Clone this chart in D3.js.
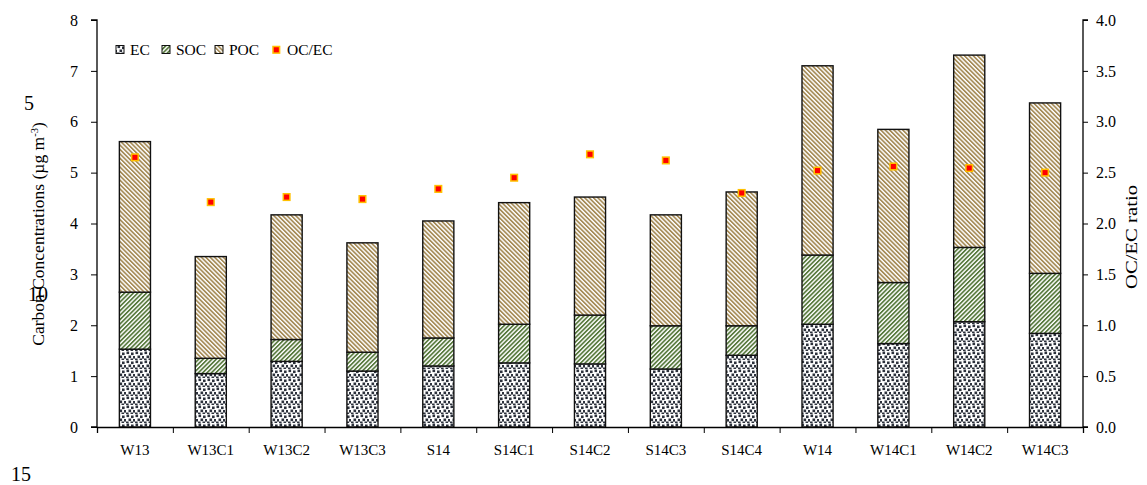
<!DOCTYPE html>
<html>
<head>
<meta charset="utf-8">
<script src="https://cdn.jsdelivr.net/npm/d3@7"></script>
<style>
body { margin: 0; background: #fff; }
svg { display: block; }
text { font-family: "Liberation Serif", "Times New Roman", serif; fill: #000; }
</style>
</head>
<body>
<svg id="chart"></svg>
<script>
// data
const sites = ["W13", "W13C1", "W13C2", "W13C3", "S14", "S14C1", "S14C2", "S14C3", "S14C4", "W14", "W14C1", "W14C2", "W14C3"]
const ec  = [1.53, 1.05, 1.29, 1.10, 1.20, 1.26, 1.24, 1.14, 1.41, 2.02, 1.64, 2.07, 1.84]
const soc = [1.12, 0.30, 0.43, 0.37, 0.55, 0.76, 0.96, 0.85, 0.58, 1.36, 1.20, 1.46, 1.18]
const poc = [2.96, 2.00, 2.45, 2.15, 2.30, 2.39, 2.32, 2.18, 2.63, 3.72, 3.01, 3.78, 3.35]
const ocec = [2.65, 2.21, 2.26, 2.24, 2.34, 2.45, 2.68, 2.62, 2.30, 2.52, 2.56, 2.545, 2.50]
const leftTicks = [0, 1, 2, 3, 4, 5, 6, 7, 8]
const rightTicks = [0, 0.5, 1, 1.5, 2, 2.5, 3, 3.5, 4]
const keys = ["EC", "SOC", "POC"]
const lineNumbers = [{t: "5", x: 24, y: 110}, {t: "10", x: 28, y: 301}, {t: "15", x: 11, y: 481}]

let width = 1147
let height = 485
let pLeft = 97, pRight = 1083, pTop = 20, pBottom = 427

let svg = d3.select('#chart').attr('width', width).attr('height', height)

// fill patterns
let defs = svg.append('defs')
let dots = defs.append('pattern').attr('id', 'pEC')
    .attr('patternUnits', 'userSpaceOnUse').attr('width', 9).attr('height', 9)
dots.append('rect').attr('width', 9).attr('height', 9).attr('fill', '#fff')
;[[0.5, 0.5], [5, 1.5], [2.5, 4.5], [7, 5], [0, 7.5], [4.5, 7.5]].forEach(p => {
    dots.append('rect').attr('x', p[0]).attr('y', p[1]).attr('width', 2.6).attr('height', 2.6)
        .attr('fill', '#2c313c')
})

function stripes(id, color, angle) {
    let p = defs.append('pattern').attr('id', id)
        .attr('patternUnits', 'userSpaceOnUse').attr('width', 3.1).attr('height', 3.1)
        .attr('patternTransform', 'rotate(' + angle + ')')
    p.append('rect').attr('width', 3.1).attr('height', 3.1).attr('fill', '#fff')
    p.append('rect').attr('width', 1.7).attr('height', 3.1).attr('fill', color)
}
stripes('pSOC', '#587a3e', 45)
stripes('pPOC', '#a68c58', -45)

let fills = {EC: 'url(#pEC)', SOC: 'url(#pSOC)', POC: 'url(#pPOC)'}

// scales
let x = d3.scaleBand().domain(sites).range([pLeft, pRight]).paddingInner(0.59).paddingOuter(0.295)
let xEdge = d3.scaleLinear().domain([0, sites.length]).range([pLeft, pRight])
let y = d3.scaleLinear().domain([0, 8]).range([pBottom, pTop])
let y2 = d3.scaleLinear().domain([0, 4]).range([pBottom, pTop])

let rows = sites.map((s, i) => ({site: s, EC: ec[i], SOC: soc[i], POC: poc[i]}))
let series = d3.stack().keys(keys)(rows)

// bars
let g = svg.append('g')
g.selectAll('g.layer')
    .data(series)
    .enter().append('g')
    .attr('class', 'layer')
    .attr('fill', d => fills[d.key])
    .selectAll('rect')
    .data(d => d)
    .enter().append('rect')
    .attr('x', d => x(d.data.site))
    .attr('width', x.bandwidth())
    .attr('y', d => y(d[1]))
    .attr('height', d => y(d[0]) - y(d[1]))
    .attr('stroke', '#111')
    .attr('stroke-width', 1.4)

// OC/EC markers
svg.append('g').selectAll('rect')
    .data(ocec)
    .enter().append('rect')
    .attr('x', (d, i) => x(sites[i]) + x.bandwidth() / 2 - 3.3)
    .attr('y', d => y2(d) - 3.3)
    .attr('width', 6.6).attr('height', 6.6)
    .attr('fill', '#ff0000')
    .attr('stroke', '#ffc000')
    .attr('stroke-width', 1.5)

// axes
let fontSize = '16px'
let axL = svg.append('g').attr('transform', 'translate(' + pLeft + ',0)')
    .call(d3.axisLeft(y).tickValues(leftTicks).tickSize(6).tickPadding(13).tickFormat(d3.format('d')))
let axR = svg.append('g').attr('transform', 'translate(' + pRight + ',0)')
    .call(d3.axisRight(y2).tickValues(rightTicks).tickSize(5).tickPadding(8).tickFormat(d3.format('.1f')))
let axB = svg.append('g').attr('transform', 'translate(0,' + pBottom + ')')
    .call(d3.axisBottom(x).tickSize(0).tickPadding(17))
let axE = svg.append('g').attr('transform', 'translate(0,' + pBottom + ')')
    .call(d3.axisBottom(xEdge).tickValues(d3.range(sites.length + 1)).tickSize(6).tickFormat(''))

;[axL, axR, axB, axE].forEach(a => {
    a.selectAll('path.domain').attr('stroke', '#000').attr('stroke-width', 1.3)
    a.selectAll('line').attr('stroke', '#000').attr('stroke-width', 1)
    a.selectAll('text').style('font-size', fontSize).attr('fill', '#000')
        .style('font-family', '"Liberation Serif", serif')
})
axB.selectAll('text').style('font-size', '15px')
axB.select('path.domain').remove()
axL.select('path.domain').attr('d', 'M-6,' + pTop + 'H0V' + pBottom + 'H-6')
axR.select('path.domain').attr('d', 'M5,' + pTop + 'H0V' + pBottom + 'H5')

// axis titles
let lt = svg.append('text')
    .attr('transform', 'translate(44,234) rotate(-90)')
    .attr('text-anchor', 'middle')
    .style('font-size', '17.5px')
lt.append('tspan').text('Carbon Concentrations (\u00b5g m')
lt.append('tspan').text('-3').attr('dy', -6).style('font-size', '10.5px')
lt.append('tspan').text(')').attr('dy', 6)

svg.append('text')
    .attr('transform', 'translate(1137,237) rotate(-90)')
    .attr('text-anchor', 'middle')
    .style('font-size', '17px')
    .attr('textLength', 104)
    .attr('lengthAdjust', 'spacingAndGlyphs')
    .text('OC/EC ratio')

// legend
let legendItems = [
    {label: 'EC', fill: fills.EC, x: 116},
    {label: 'SOC', fill: fills.SOC, x: 162},
    {label: 'POC', fill: fills.POC, x: 215}
]
let lg = svg.append('g')
legendItems.forEach(d => {
    lg.append('rect').attr('x', d.x).attr('y', 45.5).attr('width', 8).attr('height', 8)
        .attr('fill', d.fill).attr('stroke', '#111').attr('stroke-width', 1)
    lg.append('text').attr('x', d.x + 14).attr('y', 55).style('font-size', '15.5px').text(d.label)
})
lg.append('rect').attr('x', 273).attr('y', 46.5).attr('width', 6.6).attr('height', 6.6)
    .attr('fill', '#ff0000').attr('stroke', '#ffc000').attr('stroke-width', 1.5)
lg.append('text').attr('x', 287).attr('y', 55).style('font-size', '15.5px').text('OC/EC')

// stray manuscript line numbers
svg.append('g').selectAll('text')
    .data(lineNumbers)
    .enter().append('text')
    .attr('x', d => d.x).attr('y', d => d.y)
    .style('font-size', '20px')
    .text(d => d.t)
</script>
</body>
</html>
